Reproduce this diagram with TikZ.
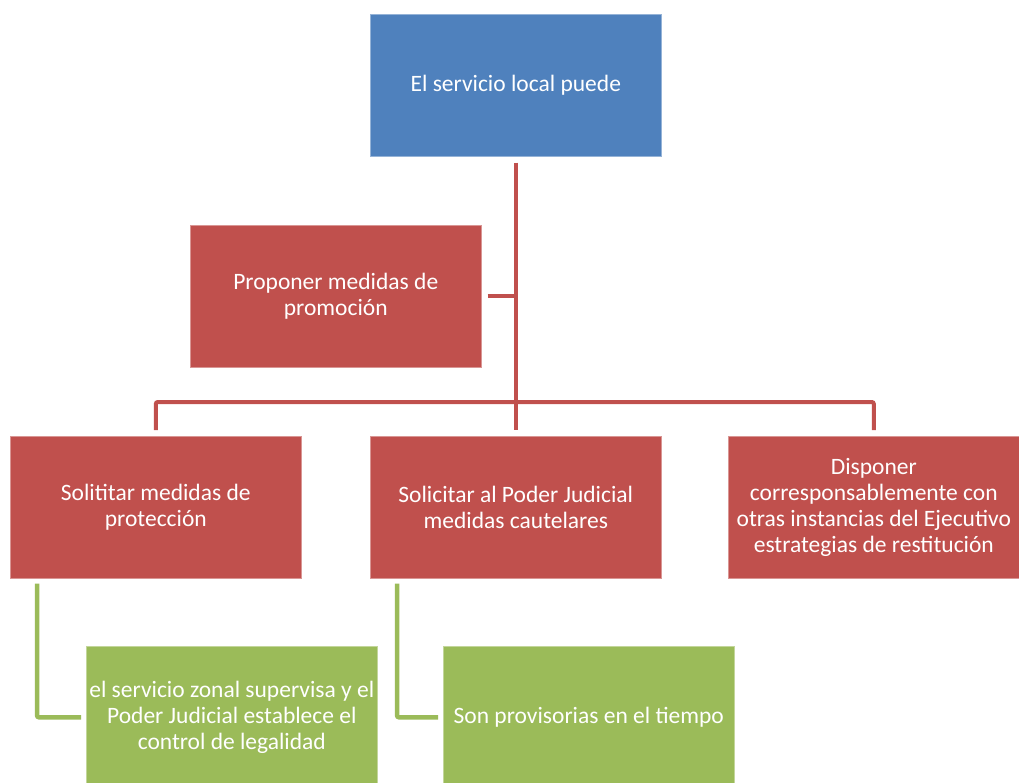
\documentclass[tikz,border=0pt]{standalone}
\usepackage{fontspec}
\setmainfont{Carlito}
\definecolor{sblue}{HTML}{4F81BD}
\definecolor{sred}{HTML}{C0504D}
\definecolor{sgreen}{HTML}{9BBB59}
\begin{document}
\begin{tikzpicture}[x=1pt,y=-1pt,
  box/.style={anchor=north west,minimum width=291pt,minimum height=142pt,inner sep=1pt,
    text=white,align=center,font=\fontsize{23.5}{26}\selectfont},
  bluebox/.style={box,fill=sblue,draw=sblue!60!white,line width=0.6pt},
  redbox/.style={box,fill=sred,draw=sred!60!white,line width=0.6pt},
  greenbox/.style={box,fill=sgreen,draw=sgreen!60!white,line width=0.6pt},
  redline/.style={draw=sred,line width=4pt},
  greenline/.style={draw=sgreen,line width=4.5pt,rounded corners=2pt}]
\useasboundingbox (0,0) rectangle (1019,783);
\node[bluebox] (top) at (370,14) {El servicio local puede};
\node[redbox] (prop) at (190,225) {Proponer medidas de\\promoción};
\node[redbox] (left) at (10,436) {Solititar medidas de\\protección};
\node[redbox] (mid) at (370,436) {Solicitar al Poder Judicial\\medidas cautelares};
\node[redbox] (right) at (728,436) {Disponer\\corresponsablemente con\\otras instancias del Ejecutivo\\estrategias de restitución};
\node[greenbox] (g1) at (86,646) {el servicio zonal supervisa y el\\Poder Judicial establece el\\control de legalidad};
\node[greenbox] (g2) at (443,646) {Son provisorias en el tiempo};
% connectors
\draw[redline] ([yshift=-6pt]top.south) -- ([yshift=6pt]mid.north);
\draw[redline] ([xshift=6pt]prop.east) -- (prop.east -| top.south);
\draw[redline,rounded corners=2pt] ([yshift=6pt]left.north) -- ++(0,-28) -| ([yshift=6pt]right.north);
\draw[greenline] ([xshift=27pt,yshift=-5pt]left.south west) |- ([xshift=-5pt]g1.west);
\draw[greenline] ([xshift=27pt,yshift=-5pt]mid.south west) |- ([xshift=-5pt]g2.west);
\end{tikzpicture}
\end{document}
